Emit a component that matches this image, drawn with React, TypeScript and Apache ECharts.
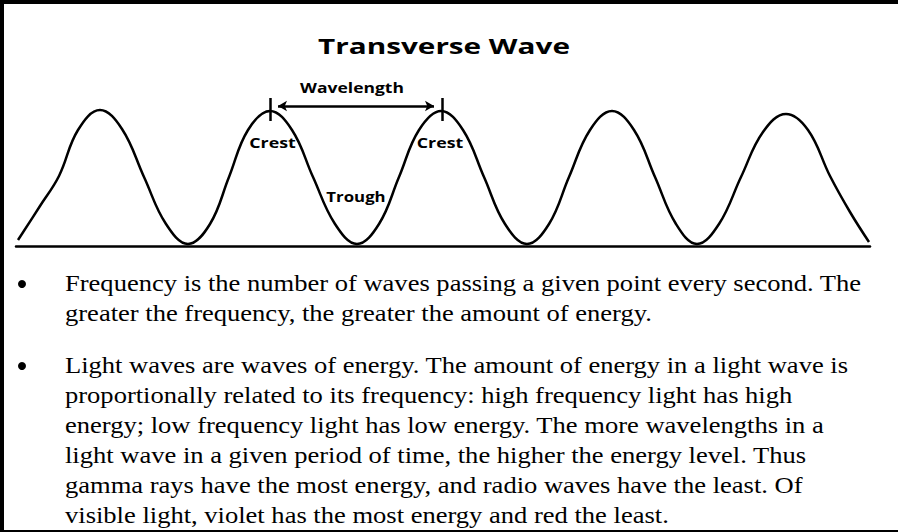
import React, { useEffect, useRef } from "react";
import * as echarts from "echarts";

// Wave trace: horizontal position (px along the diagram) and height above the baseline
const waveX = [18, 40, 59, 78, 100, 122, 144, 166, 188, 210, 229, 248, 270, 292, 313, 335, 357, 379, 399, 419, 441, 463, 484, 505, 527, 549, 569, 590, 612, 634, 655, 676, 697, 719, 741, 763, 786, 808, 830, 850, 869];
const waveY = [6, 40, 70, 116, 136, 117, 69, 22, 2, 22, 69, 116, 135, 116, 69, 22, 2, 22, 69, 116, 135, 116, 69, 22, 2, 22, 69, 116, 135, 116, 69, 22, 2, 22, 69, 114, 132, 116, 70, 34, 4];

const title = "Transverse Wave";
const wavelengthLabel = "Wavelength";
const crestLabel = "Crest";
const troughLabel = "Trough";
const crestXs = [270, 442];

const bullet1 = [
  "Frequency is the number of waves passing a given point every second. The",
  "greater the frequency, the greater the amount of energy.",
];
const bullet2 = [
  "Light waves are waves of energy. The amount of energy in a light wave is",
  "proportionally related to its frequency: high frequency light has high",
  "energy; low frequency light has low energy. The more wavelengths in a",
  "light wave in a given period of time, the higher the energy level. Thus",
  "gamma rays have the most energy, and radio waves have the least. Of",
  "visible light, violet has the most energy and red the least.",
];

export default function App() {
  const ref = useRef<HTMLDivElement>(null);
  useEffect(() => {
    if (!ref.current) return;
    const chart = echarts.init(ref.current, null, { renderer: "svg" });
    const data = waveX.map((x, i) => [x, waveY[i]]);
    const sans = "'Open Sans', 'Noto Sans', sans-serif";
    const serif = "'Liberation Serif', 'DejaVu Serif', serif";
    const bodySize = 22.5;
    const bodyScale = 1.18;
    const lh = 30;
    const b1y = 283;
    const b2y = 365;

    const label = (text: string, x: number, y: number, size: number, sx: number, family = sans, weight = "bold", align = "center") => ({
      type: "text",
      x, y, scaleX: sx,
      style: { text, x: 0, y: 0, fontFamily: family, fontWeight: weight, fontSize: size, fill: "#000", textAlign: align, textVerticalAlign: "middle" },
    });

    const bodyTexts: any[] = [];
    bodyTexts.push({ type: "circle", shape: { cx: 22, cy: b1y + 1, r: 4 }, style: { fill: "#000" } });
    bodyTexts.push({ type: "circle", shape: { cx: 22, cy: b2y + 1, r: 4 }, style: { fill: "#000" } });
    bullet1.forEach((t, i) => bodyTexts.push(label(t, 65, b1y + i * lh, bodySize, bodyScale, serif, "normal", "left")));
    bullet2.forEach((t, i) => bodyTexts.push(label(t, 65, b2y + i * lh, bodySize, bodyScale, serif, "normal", "left")));

    chart.setOption({
      animation: false,
      backgroundColor: "#fff",
      grid: { left: 16, right: 28, top: 86, bottom: 286 },
      xAxis: {
        type: "value", min: 16, max: 870,
        axisLine: { show: true, onZero: false, lineStyle: { color: "#000", width: 2.5 } },
        axisTick: { show: false }, axisLabel: { show: false }, splitLine: { show: false },
      },
      yAxis: {
        type: "value", min: 0, max: 160,
        axisLine: { show: false }, axisTick: { show: false }, axisLabel: { show: false }, splitLine: { show: false },
      },
      series: [
        {
          type: "line",
          data,
          smooth: 0.4,
          showSymbol: false,
          lineStyle: { color: "#000", width: 2.5 },
          silent: true,
          markLine: {
            silent: true,
            animation: false,
            label: { show: false },
            lineStyle: { color: "#000", type: "solid", width: 2.5 },
            data: [
              [{ coord: [crestXs[0], 148], symbol: "none" }, { coord: [crestXs[0], 125], symbol: "none" }],
              [{ coord: [crestXs[1], 148], symbol: "none" }, { coord: [crestXs[1], 125], symbol: "none" }],
              [
                { coord: [crestXs[0] + 8, 140], symbol: "arrow", symbolSize: [8, 9], symbolRotate: 90 },
                { coord: [crestXs[1] - 8, 140], symbol: "arrow", symbolSize: [8, 9], symbolRotate: -90 },
              ],
            ],
          },
        },
      ],
      graphic: [
        { type: "rect", shape: { x: 0, y: 0, width: 898, height: 4 }, style: { fill: "#000" } },
        { type: "rect", shape: { x: 0, y: 0, width: 4, height: 532 }, style: { fill: "#000" } },
        { type: "rect", shape: { x: 0, y: 530, width: 898, height: 2 }, style: { fill: "#000" } },
        label(title, 444, 45.5, 22, 1.35),
        label(wavelengthLabel, 352, 88, 14, 1.25),
        label(crestLabel, 272.5, 143, 14, 1.27),
        label(crestLabel, 440, 143, 14, 1.27),
        label(troughLabel, 356, 197, 14, 1.2),
        ...bodyTexts,
      ],
    });
    return () => chart.dispose();
  }, []);
  return <div ref={ref} style={{ position: "fixed", left: 0, top: 0, width: 898, height: 532 }} />;
}
